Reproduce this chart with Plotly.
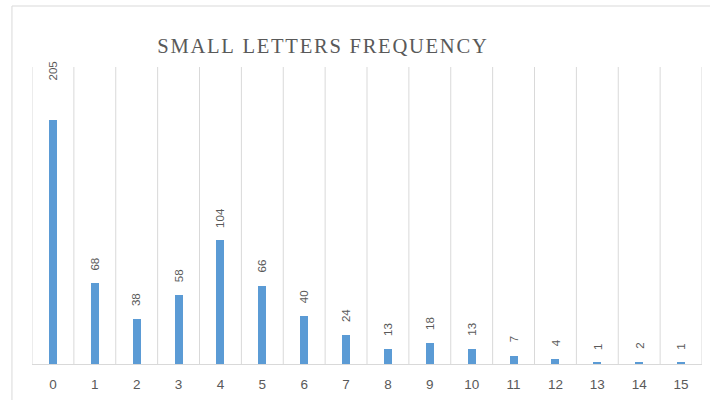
import plotly.graph_objects as go

# Frequency of small letters per count bucket
categories = list(range(16))
counts = [205, 68, 38, 58, 104, 66, 40, 24, 13, 18, 13, 7, 4, 1, 2, 1]
tick_labels = [str(c) for c in categories]
title_text = "SMALL LETTERS FREQUENCY"

BAR_COLOR = "#5B9BD5"
GRID_COLOR = "#D9D9D9"
TEXT_COLOR = "#595959"
Y_MAX = 250
LABEL_FONT = dict(family="Liberation Sans, Arial, sans-serif", size=11.5, color=TEXT_COLOR)

fig = go.Figure()
fig.add_trace(go.Bar(
    x=categories,
    y=counts,
    width=0.19,
    marker=dict(color=BAR_COLOR, line=dict(width=0)),
    hoverinfo="x+y",
))

# Rotated value labels above each bar; the tallest one is pinned to the top of the frame
peak = max(counts)
for c, v in zip(categories, counts):
    if v == peak:
        fig.add_annotation(
            x=c, y=Y_MAX, xref="x", yref="y",
            text=str(v), textangle=-90, showarrow=False,
            yanchor="top", yshift=8, font=LABEL_FONT,
        )
    else:
        fig.add_annotation(
            x=c, y=v, xref="x", yref="y",
            text=str(v), textangle=-90, showarrow=False,
            yanchor="bottom", yshift=11, font=LABEL_FONT,
        )

# Outer chart frame
fig.add_shape(
    type="rect", xref="paper", yref="paper",
    x0=-0.0299, x1=1.2, y0=-0.5, y1=(364 - 6) / 297,
    line=dict(color=GRID_COLOR, width=1), fillcolor="rgba(0,0,0,0)", layer="below",
)

spaced_title = "\u200a".join(title_text)

fig.update_layout(
    width=710, height=400,
    margin=dict(l=32, r=8, t=67, b=36),
    paper_bgcolor="white", plot_bgcolor="white",
    showlegend=False,
    bargap=0,
    title=dict(
        text=spaced_title,
        x=322 / 710, xref="container", xanchor="center",
        y=1 - 46 / 400, yref="container", yanchor="middle",
        font=dict(family="Liberation Serif, Times New Roman, serif", size=20.6, color=TEXT_COLOR),
    ),
    xaxis=dict(
        range=[-0.5, 15.5],
        tickmode="array", tickvals=categories, ticktext=tick_labels,
        showgrid=False, zeroline=False,
        showline=True, linecolor=GRID_COLOR, linewidth=1, mirror=False,
        ticks="", ticklabelstandoff=8,
        tickfont=dict(family="Liberation Sans, Arial, sans-serif", size=13.5, color=TEXT_COLOR),
        fixedrange=True,
    ),
    yaxis=dict(
        range=[0, Y_MAX],
        showgrid=False, zeroline=False, showline=False,
        showticklabels=False, ticks="",
        fixedrange=True,
    ),
)

# Vertical separators between categories
for b in [i - 0.5 for i in range(17)]:
    fig.add_shape(
        type="line", xref="x", yref="paper",
        x0=b, x1=b, y0=0, y1=1,
        line=dict(color=GRID_COLOR, width=1), layer="below",
    )

fig.write_html("out.html")
